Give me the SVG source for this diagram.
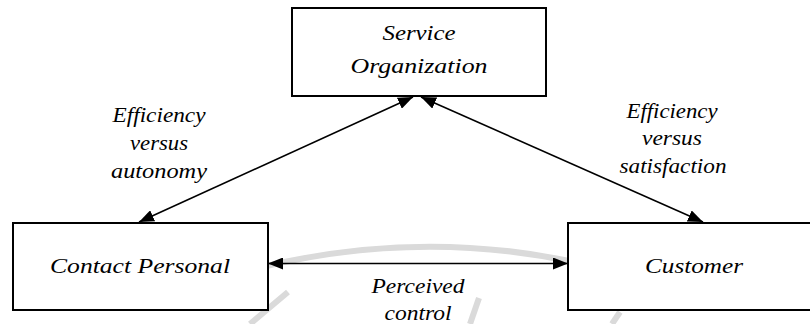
<svg xmlns="http://www.w3.org/2000/svg" width="810" height="324" viewBox="0 0 810 324">
  <style>
    .box { fill: #ffffff; stroke: #000000; stroke-width: 2; }
    .lbl { font-style: italic; font-size: 21px; fill: #000000; text-anchor: middle; }
    .link { fill: none; stroke: #000000; stroke-width: 1.6; marker-start: url(#head); marker-end: url(#head); }
    .mark { fill: none; stroke: #dadada; stroke-width: 6; }
  </style>
  <defs>
    <marker id="head" markerUnits="userSpaceOnUse" markerWidth="15" markerHeight="12" refX="15" refY="6" orient="auto-start-reverse">
      <path d="M0,0 L15,6 L0,12 Z" fill="#000000"/>
    </marker>
  </defs>

  <rect x="0" y="0" width="810" height="324" fill="#ffffff"/>

  <!-- faint background logo strokes -->
  <g id="background-mark">
    <path class="mark" d="M 262 267 Q 420 229 574 262"/>
    <path class="mark" d="M 250 324 L 288 292"/>
    <path class="mark" d="M 470 324 L 479 298"/>
    <path class="mark" d="M 612 324 L 620 312"/>
  </g>

  <g id="connectors">
    <line class="link" x1="139" y1="222" x2="413" y2="97"/>
    <line class="link" x1="421" y1="97" x2="703" y2="222"/>
    <line class="link" x1="268" y1="263.5" x2="568" y2="263.5"/>
  </g>

  <g font-family="'Liberation Serif', 'Times New Roman', Times, serif">
    <g id="service-organization">
      <rect class="box" x="292" y="8" width="254" height="88"/>
      <text class="lbl" x="419" y="40" textLength="73" lengthAdjust="spacingAndGlyphs">Service</text>
      <text class="lbl" x="419" y="73" textLength="137" lengthAdjust="spacingAndGlyphs">Organization</text>
    </g>

    <g id="contact-personal">
      <rect class="box" x="13" y="223" width="255" height="87"/>
      <text class="lbl" x="140" y="273" textLength="180" lengthAdjust="spacingAndGlyphs">Contact Personal</text>
    </g>

    <g id="customer">
      <rect class="box" x="568" y="223" width="252" height="87"/>
      <text class="lbl" x="694" y="273" textLength="98" lengthAdjust="spacingAndGlyphs">Customer</text>
    </g>

    <g id="label-efficiency-autonomy">
      <text class="lbl" x="159" y="122" textLength="93" lengthAdjust="spacingAndGlyphs">Efficiency</text>
      <text class="lbl" x="159" y="150" textLength="58" lengthAdjust="spacingAndGlyphs">versus</text>
      <text class="lbl" x="159" y="178" textLength="96" lengthAdjust="spacingAndGlyphs">autonomy</text>
    </g>

    <g id="label-efficiency-satisfaction">
      <text class="lbl" x="672" y="118" textLength="91" lengthAdjust="spacingAndGlyphs">Efficiency</text>
      <text class="lbl" x="672" y="145" textLength="60" lengthAdjust="spacingAndGlyphs">versus</text>
      <text class="lbl" x="673" y="173" textLength="107" lengthAdjust="spacingAndGlyphs">satisfaction</text>
    </g>

    <g id="label-perceived-control">
      <text class="lbl" x="418" y="293" textLength="93" lengthAdjust="spacingAndGlyphs">Perceived</text>
      <text class="lbl" x="418" y="320" textLength="67" lengthAdjust="spacingAndGlyphs">control</text>
    </g>
  </g>
</svg>
